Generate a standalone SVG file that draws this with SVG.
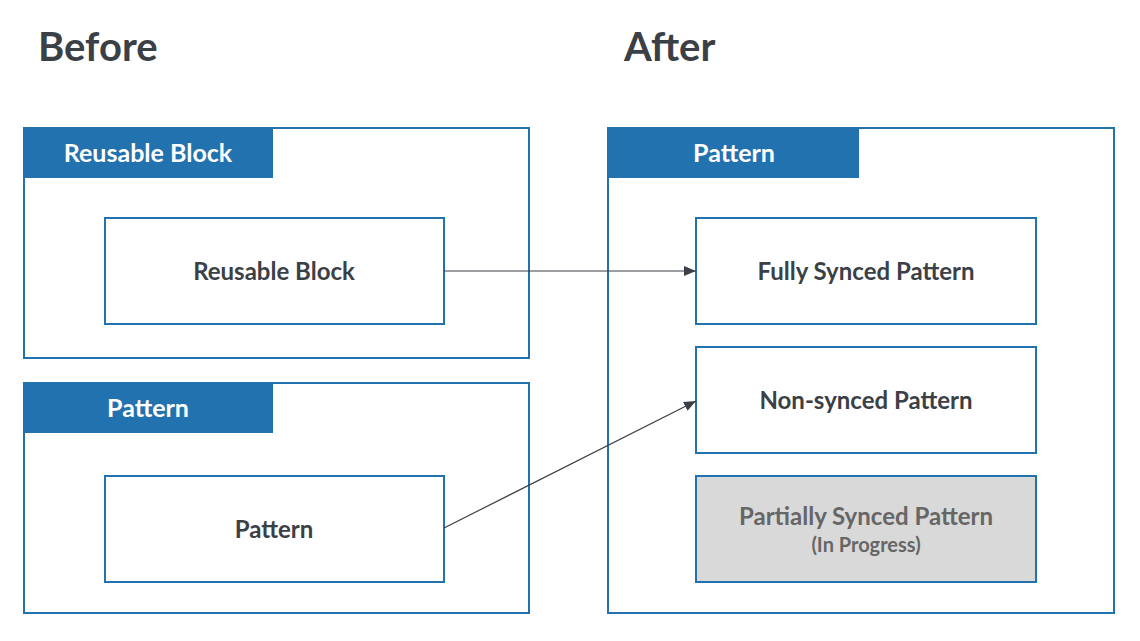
<svg xmlns="http://www.w3.org/2000/svg" width="1140" height="641" viewBox="0 0 1140 641">
<style>
text{font-family:Lato,"Open Sans",sans-serif;font-weight:bold;text-anchor:middle}
.o{fill:#fff;stroke:#2372b0;stroke-width:2}
.h{fill:#2372b0}
.ht{fill:#fff;font-size:25px}
.n{fill:#fff;stroke:#2372b0;stroke-width:2}
.nt{fill:#3b3f46;font-size:24px}
.t{fill:#3b3f46;font-size:40px;text-anchor:start}
</style>
<defs><marker id="a" markerWidth="12" markerHeight="10" refX="12" refY="5" orient="auto" markerUnits="userSpaceOnUse"><path d="M0,0L12,5L0,10z" fill="#3b3f46"/></marker></defs>
<text class="t" x="38" y="61">Before</text>
<text class="t" x="624" y="61">After</text>
<g id="before-reusable"><rect class="o" x="24" y="128" width="505" height="230"/><rect class="h" x="24" y="128" width="249" height="50"/><text class="ht" x="148" y="162">Reusable Block</text></g>
<g id="node-reusable"><rect class="n" x="105" y="218" width="339" height="106"/><text class="nt" x="274" y="280">Reusable Block</text></g>
<g id="before-pattern"><rect class="o" x="24" y="383" width="505" height="230"/><rect class="h" x="24" y="383" width="249" height="50"/><text class="ht" x="148" y="417">Pattern</text></g>
<g id="node-pattern"><rect class="n" x="105" y="476" width="339" height="106"/><text class="nt" x="274" y="538">Pattern</text></g>
<g id="after-pattern"><rect class="o" x="608" y="128" width="506" height="485"/><rect class="h" x="608" y="128" width="251" height="50"/><text class="ht" x="734" y="162">Pattern</text></g>
<g id="node-fully"><rect class="n" x="696" y="218" width="340" height="106"/><text class="nt" x="866" y="280">Fully Synced Pattern</text></g>
<g id="node-non"><rect class="n" x="696" y="347" width="340" height="106"/><text class="nt" x="866" y="409">Non-synced Pattern</text></g>
<g id="node-partial"><rect x="696" y="476" width="340" height="106" fill="#d9d9d9" stroke="#2372b0" stroke-width="2"/><text class="nt" x="866" y="525" fill="#666" style="fill:#666">Partially Synced Pattern</text><text x="866" y="552" style="fill:#666;font-size:20px">(In Progress)</text></g>
<g id="connectors" stroke="#3b3f46" stroke-width="1.2" fill="none">
<line x1="444" y1="271" x2="696" y2="271" marker-end="url(#a)"/>
<line x1="444" y1="528" x2="696" y2="401" marker-end="url(#a)"/>
</g>
</svg>
